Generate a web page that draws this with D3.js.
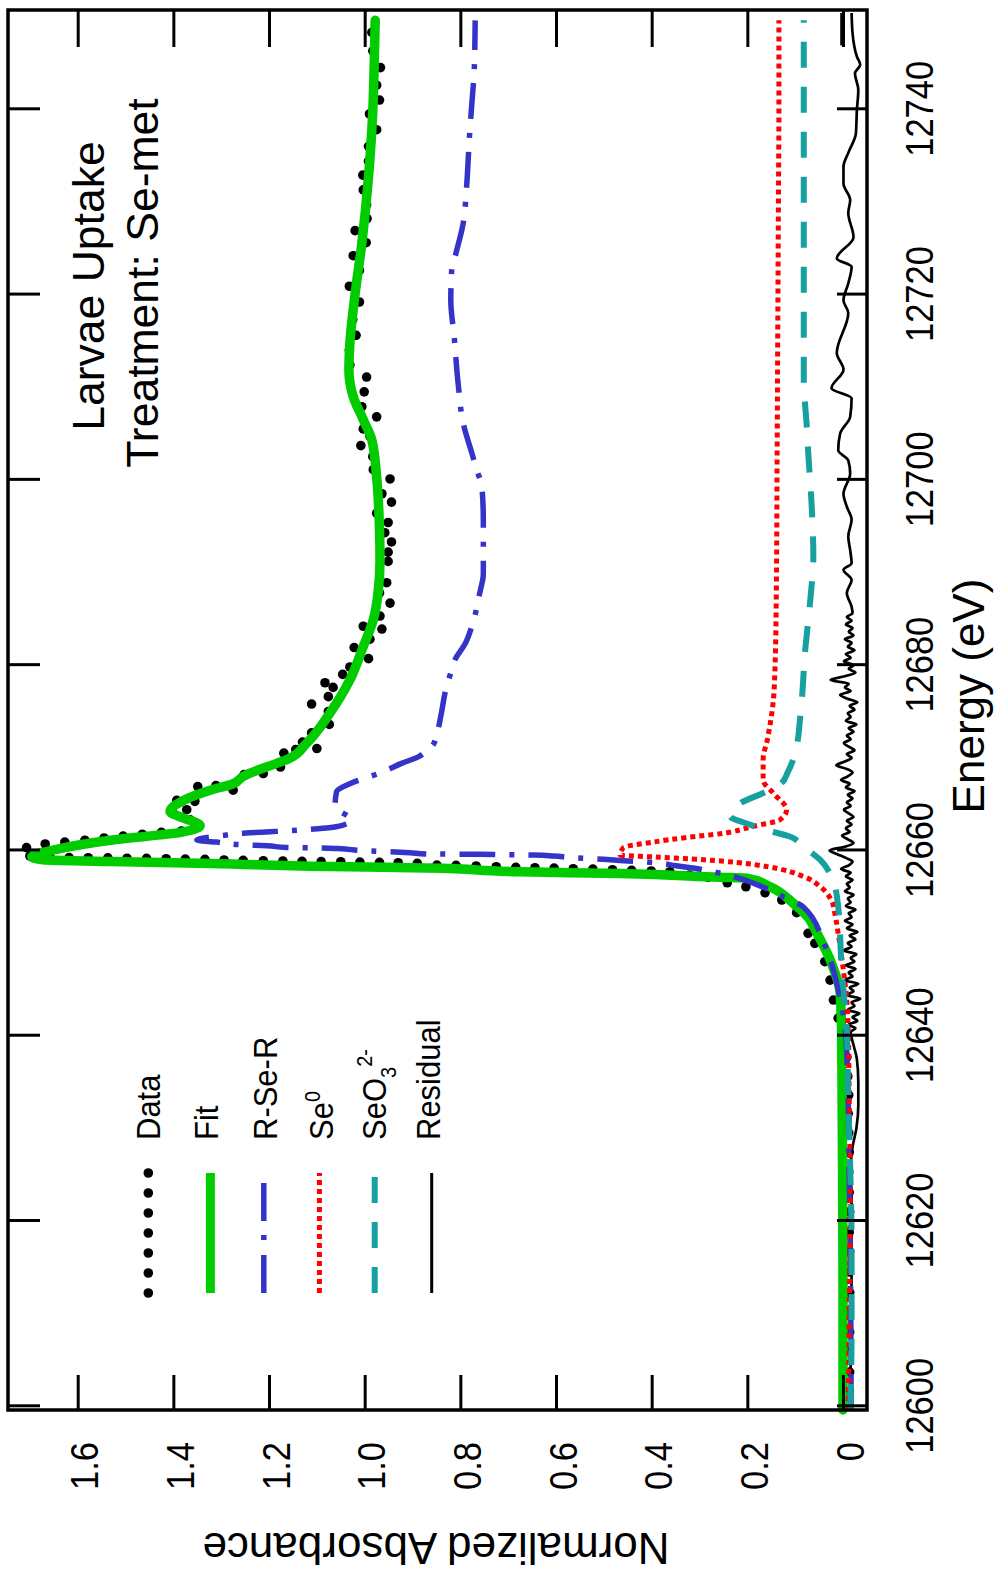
<!DOCTYPE html>
<html>
<head>
<meta charset="utf-8">
<title>Larvae Uptake – Se K-edge XANES fit</title>
<script src="https://cdn.jsdelivr.net/npm/d3@7"></script>
<style>
  html, body { margin: 0; padding: 0; background: #fff; }
  svg { display: block; }
</style>
</head>
<body>
<svg id="chart" width="1000" height="1574"></svg>
<script>
// ---------------- data ----------------
const energyTicks = [12600, 12620, 12640, 12660, 12680, 12700, 12720, 12740];
const energyLabels = ["12600", "12620", "12640", "12660", "12680", "12700", "12720", "12740"];
const absTicks = [0, 0.2, 0.4, 0.6, 0.8, 1.0, 1.2, 1.4, 1.6];
const absLabels = ["0", "0.2", "0.4", "0.6", "0.8", "1.0", "1.2", "1.4", "1.6"];

// measured spectrum [energy eV, normalized absorbance]
const dataPoints = [
  [12601.6,-0.013],[12603.7,-0.014],[12605.9,-0.013],[12608.0,-0.014],[12610.2,-0.013],[12612.3,-0.014],
  [12614.5,-0.013],[12616.7,-0.014],[12618.8,-0.013],[12621.0,-0.014],[12623.1,-0.013],[12625.3,-0.012],
  [12627.4,-0.013],[12629.5,-0.012],[12631.6,-0.011],[12633.6,-0.012],[12635.6,-0.010],[12637.7,-0.008],
  [12639.75,-0.006],[12641.9,0.010],[12643.85,0.020],[12646.0,0.027],[12647.99,0.038],[12649.97,0.059],
  [12651.05,0.073],[12653.28,0.097],[12654.65,0.128],[12655.43,0.163],[12656.08,0.203],[12656.51,0.242],
  [12657.10,0.282],[12657.35,0.321],[12657.70,0.362],[12657.78,0.401],[12657.85,0.442],[12657.92,0.482],
  [12657.99,0.523],[12658.03,0.564],[12658.10,0.604],[12658.13,0.644],[12658.18,0.684],[12658.24,0.725],
  [12658.32,0.767],[12658.39,0.809],[12658.42,0.849],[12658.61,0.890],[12658.67,0.930],[12658.72,0.969],
  [12658.75,1.010],[12658.78,1.050],[12658.79,1.091],[12658.83,1.131],[12658.86,1.171],[12658.89,1.212],
  [12658.93,1.254],[12658.97,1.294],[12659.04,1.334],[12659.07,1.375],[12659.11,1.415],[12659.15,1.456],
  [12659.16,1.497],[12659.20,1.537],[12659.21,1.578],[12659.22,1.618],[12659.26,1.658],[12659.40,1.700],
  [12660.30,1.707],[12660.70,1.668],[12660.90,1.627],[12661.10,1.585],[12661.35,1.545],[12661.55,1.505],
  [12661.75,1.465],[12661.95,1.425],[12662.10,1.383],[12663.30,1.365],[12664.00,1.400],[12664.40,1.372],
  [12665.30,1.355],[12665.40,1.393],[12666.50,1.275],[12666.90,1.349],[12667.00,1.311],[12668.20,1.252],
  [12668.30,1.212],[12669.00,1.176],[12670.50,1.169],[12670.90,1.144],[12671.00,1.100],[12671.70,1.130],
  [12672.70,1.111],[12673.60,1.074],[12675.00,1.076],[12675.80,1.111],[12676.60,1.076],[12677.60,1.066],
  [12678.10,1.083],[12679.00,1.046],[12679.80,1.031],[12680.70,0.992],[12681.90,1.022],[12682.80,0.989],
  [12683.90,0.964],[12684.20,1.003],[12685.30,0.968],[12686.70,0.947],[12687.80,0.969],[12688.90,0.954],
  [12691.20,0.951],[12692.20,0.951],[12693.30,0.944],[12694.30,0.958],[12695.40,0.951],[12696.40,0.975],
  [12697.60,0.944],[12698.50,0.964],[12700.10,0.947],[12701.10,0.982],[12702.50,0.983],[12703.70,1.008],
  [12704.70,0.989],[12705.50,1.003],[12706.80,0.975],[12707.90,1.006],[12709.50,1.001],[12711.10,0.996],
  [12712.40,1.031],[12714.00,1.032],[12715.60,1.018],[12717.30,1.025],[12719.20,1.011],[12720.90,1.032],
  [12722.60,1.011],[12724.20,1.024],[12725.60,0.997],[12726.90,1.020],[12728.20,0.995],[12729.70,0.996],
  [12731.30,1.003],[12732.90,1.004],[12734.40,0.992],[12736.00,0.992],[12737.80,0.975],[12739.50,0.990],
  [12741.00,0.969],[12742.60,0.975],[12744.50,0.967],[12746.30,0.983],[12748.30,0.985]
];

// linear-combination fit
const fitCurve = [
  [12599.6,0.000],[12610.0,0.000],[12625.9,0.001],[12634.0,0.002],[12640.3,0.003],[12644.6,0.006],
  [12648.2,0.027],[12651.8,0.062],[12652.5,0.069],[12654.3,0.104],[12656.1,0.153],[12657.0,0.201],
  [12657.1,0.257],[12657.5,0.466],[12657.7,0.675],[12658.1,0.870],[12658.3,1.114],[12658.6,1.323],
  [12658.8,1.532],[12659.0,1.672],[12659.3,1.696],[12660.2,1.637],[12661.1,1.532],[12662.0,1.379],
  [12662.7,1.344],[12663.5,1.379],[12664.2,1.407],[12665.4,1.379],[12666.5,1.323],[12667.2,1.275],
  [12668.0,1.254],[12669.4,1.184],[12669.8,1.163],[12671.6,1.121],[12674.8,1.073],[12678.4,1.031],
  [12682.0,1.003],[12684.9,0.982],[12687.8,0.972],[12691.3,0.968],[12694.6,0.969],[12700.3,0.975],
  [12704.3,0.985],[12706.5,1.003],[12709.0,1.024],[12711.9,1.033],[12714.7,1.031],[12720.1,1.020],
  [12725.5,1.006],[12732.7,0.992],[12739.9,0.983],[12745.0,0.980],[12749.6,0.978]
];

// weighted reference components
const rSeR = [
  [12599.6,-0.017],[12612.0,-0.016],[12625.0,-0.013],[12635.0,-0.010],[12641.0,-0.004],[12645.0,0.010],
  [12650.0,0.040],[12653.9,0.083],[12655.0,0.125],[12656.0,0.165],[12657.7,0.271],[12658.1,0.313],
  [12658.35,0.348],[12658.75,0.410],[12658.9,0.459],[12659.05,0.501],[12659.25,0.571],[12659.4,0.606],
  [12659.5,0.647],[12659.55,0.717],[12659.58,0.759],[12659.62,0.868],[12659.75,0.905],[12660.0,1.010],
  [12660.2,1.055],[12660.28,1.093],[12660.32,1.163],[12660.5,1.205],[12660.6,1.254],[12660.9,1.310],
  [12661.12,1.351],[12661.66,1.289],[12661.9,1.240],[12662.02,1.198],[12662.39,1.087],[12662.74,1.045],
  [12663.28,1.027],[12664.72,1.062],[12666.3,1.059],[12667.2,1.031],[12668.5,0.961],[12669.4,0.923],
  [12670.1,0.888],[12670.8,0.870],[12671.4,0.857],[12672.6,0.849],[12675.0,0.839],[12677.0,0.832],
  [12679.5,0.818],[12680.6,0.811],[12682.3,0.790],[12684.2,0.776],[12687.9,0.759],[12689.8,0.752],
  [12695.7,0.752],[12699.3,0.755],[12701.1,0.766],[12702.9,0.776],[12706.1,0.794],[12710.1,0.804],
  [12715.5,0.813],[12719.4,0.820],[12722.7,0.818],[12724.5,0.809],[12727.7,0.794],[12731.6,0.787],
  [12737.0,0.781],[12740.6,0.776],[12744.2,0.771],[12749.6,0.769]
];

const se0 = [
  [12599.6,-0.011],[12610.0,-0.013],[12622.3,-0.015],[12633.1,-0.013],[12640.3,-0.011],[12643.8,-0.008],
  [12647.4,0.000],[12651.0,0.010],[12653.2,0.017],[12654.6,0.024],[12656.1,0.048],[12657.2,0.083],
  [12658.2,0.153],[12658.7,0.222],[12659.0,0.292],[12659.3,0.397],[12659.5,0.466],[12660.3,0.459],
  [12660.9,0.397],[12661.4,0.327],[12661.8,0.257],[12662.6,0.188],[12663.3,0.132],[12664.4,0.118],
  [12666.2,0.146],[12667.6,0.167],[12669.8,0.167],[12672.0,0.158],[12676.0,0.146],[12680.0,0.142],
  [12690.0,0.139],[12700.0,0.138],[12710.0,0.137],[12720.0,0.136],[12730.0,0.135],[12740.0,0.134],
  [12749.6,0.134]
];

const seO3 = [
  [12599.6,-0.015],[12608.0,-0.018],[12617.0,-0.018],[12626.0,-0.015],[12633.1,-0.011],[12640.3,-0.008],
  [12647.4,0.003],[12653.9,0.010],[12656.1,0.017],[12657.5,0.027],[12659.0,0.048],[12660.4,0.083],
  [12661.5,0.111],[12662.2,0.160],[12662.9,0.201],[12663.7,0.236],[12665.1,0.215],[12666.2,0.167],
  [12667.2,0.130],[12668.5,0.115],[12670.5,0.100],[12675.2,0.088],[12681.6,0.079],[12686.7,0.069],
  [12691.8,0.062],[12696.7,0.065],[12703.2,0.073],[12706.0,0.076],[12708.6,0.080],[12710.0,0.082],
  [12720.0,0.082],[12740.0,0.082],[12749.6,0.082]
];

// data minus fit
const residual = [
  [12600.5,-0.015],[12608.0,-0.017],[12615.0,-0.018],[12622.0,-0.018],[12626.0,-0.016],[12628.0,-0.020],
  [12630.0,-0.028],[12632.5,-0.032],[12635.0,-0.032],[12637.5,-0.029],[12639.0,-0.022],
  [12640.4,-0.016],[12640.8,-0.026],[12641.2,-0.012],[12641.6,-0.030],[12642.0,-0.020],[12642.4,-0.034],
  [12642.8,-0.010],[12643.2,-0.024],[12643.6,-0.018],[12644.0,-0.036],[12644.4,-0.008],[12644.8,-0.022],
  [12645.2,-0.014],[12645.6,-0.032],[12646.0,-0.004],[12646.4,-0.020],[12646.8,-0.012],[12647.2,-0.026],
  [12647.6,-0.006],[12648.0,-0.024],[12648.4,-0.016],[12648.8,-0.028],[12649.2,-0.002],[12649.6,-0.018],
  [12650.0,-0.010],[12650.4,-0.026],[12650.8,-0.014],[12651.2,-0.030],[12651.6,-0.008],[12652.0,-0.020],
  [12652.4,-0.004],[12652.8,-0.018],[12653.2,-0.012],[12653.6,-0.026],[12654.0,-0.006],[12654.4,-0.016],
  [12654.8,-0.010],[12655.2,-0.022],[12655.6,-0.004],[12656.0,-0.014],[12656.4,-0.008],[12656.8,-0.020],
  [12657.2,-0.006],[12657.6,-0.016],[12658.0,0.004],[12658.4,-0.012],[12658.8,-0.020],[12659.2,-0.006],
  [12659.6,0.012],[12660.0,0.028],[12660.4,-0.004],[12660.8,-0.022],[12661.2,-0.010],[12661.6,0.002],
  [12662.0,-0.014],[12662.4,-0.006],[12662.8,-0.018],[12663.2,-0.008],[12663.6,-0.022],[12664.0,-0.012],
  [12664.4,-0.002],[12664.8,-0.016],[12665.2,-0.008],[12665.6,-0.020],[12666.0,-0.010],[12666.4,-0.024],
  [12666.8,-0.006],[12667.2,-0.014],[12667.6,0.004],[12668.0,-0.010],[12668.4,-0.020],[12668.8,-0.008],
  [12669.2,0.014],[12669.6,-0.004],[12670.0,-0.018],[12670.4,-0.008],[12670.8,-0.024],[12671.2,-0.012],
  [12671.6,-0.002],[12672.0,-0.016],[12672.4,-0.008],[12672.8,-0.022],[12673.2,-0.012],[12673.6,-0.028],
  [12674.0,-0.006],[12674.4,-0.016],[12674.8,-0.010],[12675.2,-0.024],[12675.6,-0.014],[12676.0,-0.030],
  [12676.4,-0.008],[12676.8,0.006],[12677.2,-0.016],[12677.6,-0.004],[12678.0,-0.012],[12678.4,0.026],
  [12678.8,-0.004],[12679.2,-0.026],[12679.6,-0.012],[12680.0,-0.022],[12680.4,-0.002],[12680.8,-0.016],
  [12681.2,-0.006],[12681.6,-0.024],[12682.0,-0.010],[12682.4,-0.018],[12682.8,-0.004],[12683.2,-0.022],
  [12683.6,-0.012],[12684.0,-0.020],[12684.4,-0.006],[12684.8,-0.018],[12685.2,-0.008],[12685.6,-0.020],
  [12686.3,-0.018],[12687.8,-0.008],[12689.2,-0.018],[12690.3,-0.001],[12691.0,-0.018],[12692.4,-0.015],
  [12693.9,-0.011],[12695.7,-0.018],[12697.1,-0.008],[12698.5,-0.001],[12700.7,-0.015],[12702.1,-0.011],
  [12703.2,0.010],[12705.0,0.006],[12706.8,-0.015],[12708.8,-0.018],[12709.9,0.024],[12711.9,-0.001],
  [12713.7,0.013],[12718.0,-0.011],[12719.4,-0.001],[12721.2,-0.011],[12723.0,-0.018],[12723.9,0.013],
  [12726.2,-0.022],[12728.8,-0.011],[12730.2,-0.015],[12732.0,-0.001],[12733.8,-0.001],[12735.3,-0.011],
  [12737.4,-0.027],[12739.9,-0.029],[12742.1,-0.032],[12743.9,-0.025],[12744.8,-0.036],[12745.7,-0.029],
  [12748.2,-0.020],[12750.4,-0.018]
];
const residualStub = [[12746.9,0.003],[12750.4,0.003]];

const legendNames = ["Data", "Fit", "R-Se-R", "Se0", "SeO32-", "Residual"];

// ---------------- layout ----------------
// The chart is laid out landscape (W x H) and then turned a quarter turn
// counter-clockwise so that energy runs up the page.
const W = 1574, H = 1000;
const plot = { left: 164, right: 1564, top: 8, bottom: 867 };
const FONT = '"Liberation Sans", Arial, Helvetica, sans-serif';

const svg = d3.select("#chart");
const g = svg.append("g").attr("transform", `translate(0,${W}) rotate(-90)`);

const x = d3.scaleLinear().domain([12600, 12740]).range([167.7, 1464.7]);
const y = d3.scaleLinear().domain([0, 1.6]).range([843, 77.7]);

const line = d3.line()
  .x(d => x(d[0]))
  .y(d => y(d[1]))
  .curve(d3.curveMonotoneX);

// ---------------- series ----------------
[residual, residualStub].forEach(d => {
  g.append("path").datum(d)
    .attr("d", line).attr("fill", "none")
    .attr("stroke", "#000").attr("stroke-width", 2.7)
    .attr("stroke-linejoin", "round");
});

g.append("g").selectAll("circle").data(dataPoints).join("circle")
  .attr("cx", d => x(d[0])).attr("cy", d => y(d[1]))
  .attr("r", 4.8).attr("fill", "#000");

const comps = [
  { data: fitCurve, stroke: "#00cc00", width: 9.5, dash: null, cap: "round" },
  { data: rSeR,     stroke: "#3434c8", width: 5.5, dash: "36,14,5,14", cap: "butt" },
  { data: se0,      stroke: "#ff0000", width: 5,   dash: "5,4", cap: "butt" },
  { data: seO3,     stroke: "#16a0a0", width: 6,   dash: "26,19", cap: "butt" },
];
comps.forEach(s => {
  g.append("path").datum(s.data)
    .attr("d", line).attr("fill", "none")
    .attr("stroke", s.stroke).attr("stroke-width", s.width)
    .attr("stroke-linejoin", "round").attr("stroke-linecap", s.cap)
    .attr("stroke-dasharray", s.dash);
});

// ---------------- axes ----------------
function styleTicks(ax) {
  ax.select(".domain").remove();
  ax.selectAll(".tick line").attr("stroke", "#000").attr("stroke-width", 3);
}

const axBottom = g.append("g").attr("transform", `translate(0,${plot.bottom})`)
  .call(d3.axisBottom(x).tickValues(energyTicks).tickFormat((d, i) => energyLabels[i])
    .tickSizeInner(-30).tickSizeOuter(0));
styleTicks(axBottom);
axBottom.selectAll(".tick text")
  .attr("y", null).attr("dy", null)
  .attr("transform", "translate(0,66) scale(1,1.1)")
  .attr("text-anchor", "middle")
  .attr("font-size", 34.5).attr("font-family", FONT).attr("fill", "#000");

const axTop = g.append("g").attr("transform", `translate(0,${plot.top})`)
  .call(d3.axisTop(x).tickValues(energyTicks).tickFormat("").tickSizeInner(-32).tickSizeOuter(0));
styleTicks(axTop);

const axLeft = g.append("g").attr("transform", `translate(${plot.left},0)`)
  .call(d3.axisLeft(y).tickValues(absTicks).tickFormat((d, i) => absLabels[i])
    .tickSizeInner(-35).tickSizeOuter(0));
styleTicks(axLeft);
axLeft.selectAll(".tick text")
  .attr("x", null).attr("dy", null)
  .attr("transform", "translate(-32,20) scale(1,1.1)")
  .attr("text-anchor", "end")
  .attr("font-size", 34.5).attr("font-family", FONT).attr("fill", "#000");

const axRight = g.append("g").attr("transform", `translate(${plot.right},0)`)
  .call(d3.axisRight(y).tickValues(absTicks).tickFormat("").tickSizeInner(-37).tickSizeOuter(0));
styleTicks(axRight);

// plot frame
g.append("rect")
  .attr("x", plot.left).attr("y", plot.top)
  .attr("width", plot.right - plot.left).attr("height", plot.bottom - plot.top)
  .attr("fill", "none").attr("stroke", "#000").attr("stroke-width", 3.5);

// axis titles
g.append("text")
  .attr("x", 878).attr("y", 984)
  .attr("text-anchor", "middle").attr("font-size", 44).attr("font-family", FONT)
  .text("Energy (eV)");

g.append("text")
  .attr("transform", "translate(41,436) rotate(-90)")
  .attr("text-anchor", "middle").attr("font-size", 44).attr("font-family", FONT)
  .text("Normalized Absorbance");

// sample annotation
g.append("text")
  .attr("x", 1288).attr("y", 104)
  .attr("text-anchor", "middle").attr("font-size", 44.5).attr("font-family", FONT)
  .text("Larvae Uptake");
g.append("text")
  .attr("x", 1291).attr("y", 158)
  .attr("text-anchor", "middle").attr("font-size", 44.5).attr("font-family", FONT)
  .text("Treatment: Se-met");

// ---------------- legend ----------------
const legRows = [148.3, 210.4, 263.8, 319.4, 374.7, 431.7];
const legBase = [160, 218.3, 276.7, 333.3, 386, 440];
const legX0 = 281, legX1 = 401, legText = 434;
const leg = g.append("g");

// Data: a row of dots
leg.selectAll("circle").data(d3.range(7)).join("circle")
  .attr("cx", i => legX0 + i * 20).attr("cy", legRows[0])
  .attr("r", 4.8).attr("fill", "#000");

const legLines = [
  { row: 1, stroke: "#00cc00", width: 9,   dash: null },
  { row: 2, stroke: "#3434c8", width: 5.5, dash: "38,15,5,14" },
  { row: 3, stroke: "#ff0000", width: 5,   dash: "5,4" },
  { row: 4, stroke: "#16a0a0", width: 6,   dash: "26,19" },
  { row: 5, stroke: "#000000", width: 3,   dash: null },
];
legLines.forEach(l => {
  leg.append("line")
    .attr("x1", legX0).attr("x2", legX1)
    .attr("y1", legRows[l.row]).attr("y2", legRows[l.row])
    .attr("stroke", l.stroke).attr("stroke-width", l.width)
    .attr("stroke-dasharray", l.dash);
});

function legendLabel(i) {
  const t = leg.append("text")
    .attr("transform", `translate(${legText},${legBase[i]}) scale(1,1.1)`)
    .attr("font-size", 31).attr("font-family", FONT);
  const name = legendNames[i];
  if (name === "Se0") {
    t.append("tspan").text("Se");
    t.append("tspan").attr("font-size", 20).attr("dy", -12).text("0");
  } else if (name === "SeO32-") {
    t.append("tspan").text("SeO");
    t.append("tspan").attr("font-size", 20).attr("dy", 9).text("3");
    t.append("tspan").attr("font-size", 20).attr("dy", -22).text("2-");
  } else {
    t.text(name);
  }
}
legendNames.forEach((_, i) => legendLabel(i));
</script>
</body>
</html>
